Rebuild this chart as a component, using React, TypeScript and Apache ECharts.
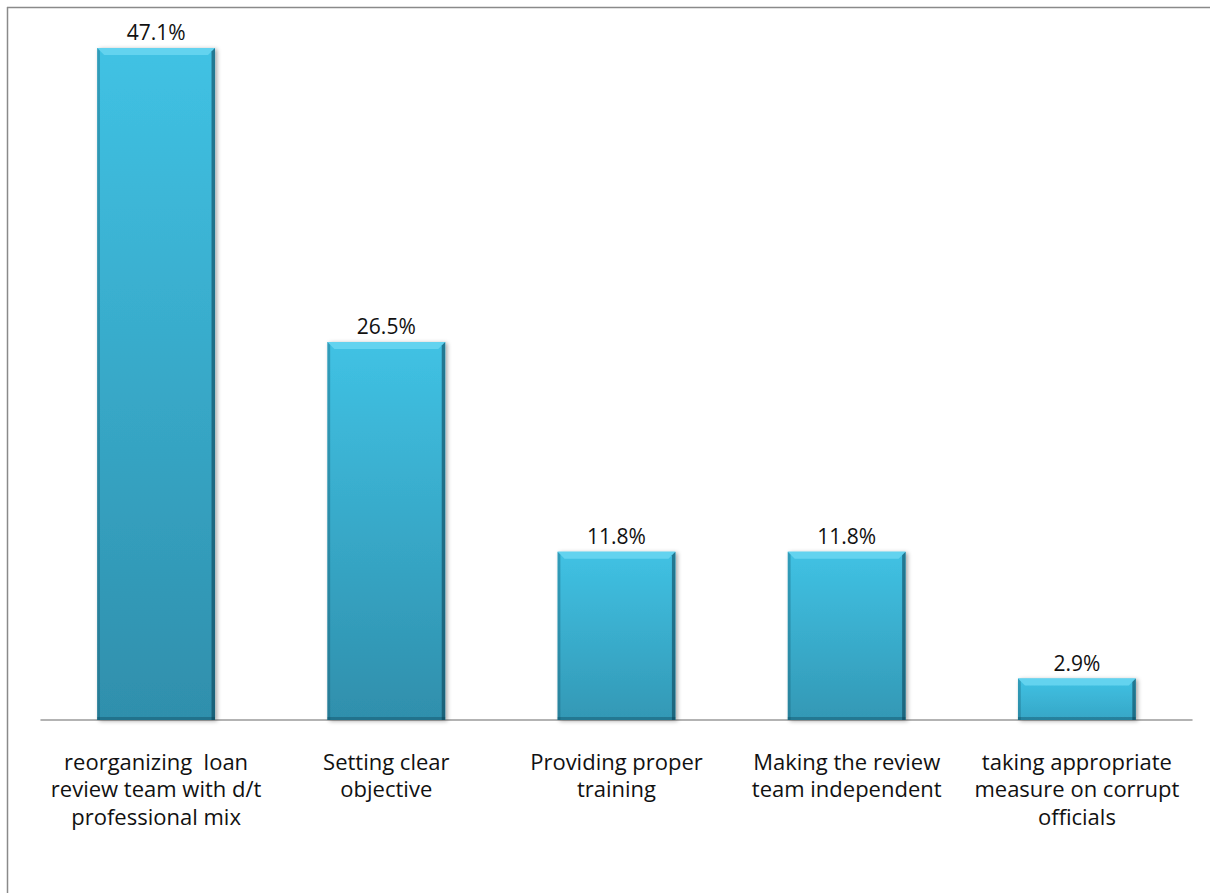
import React, { useEffect, useRef } from "react";
import * as echarts from "echarts";

const categories = [
  "reorganizing  loan\nreview team with d/t\nprofessional mix",
  "Setting clear\nobjective",
  "Providing proper\ntraining",
  "Making the review\nteam independent",
  "taking appropriate\nmeasure on corrupt\nofficials",
];
const values = [47.1, 26.5, 11.8, 11.8, 2.9];

export default function App() {
  const ref = useRef<HTMLDivElement>(null);
  useEffect(() => {
    if (!ref.current) return;
    const chart = echarts.init(ref.current, null, { renderer: "svg" });
    const font = "'Open Sans', sans-serif";
    chart.setOption({
      animation: false,
      backgroundColor: "#ffffff",
      graphic: [
        {
          type: "line",
          shape: { x1: 7, y1: 7.5, x2: 1210, y2: 7.5 },
          style: { stroke: "#8a8a8a", lineWidth: 1.5 },
          silent: true,
        },
        {
          type: "line",
          shape: { x1: 7.5, y1: 7, x2: 7.5, y2: 893 },
          style: { stroke: "#8a8a8a", lineWidth: 1.5 },
          silent: true,
        },
      ],
      grid: { left: 41, right: 18, top: 6.6, bottom: 173 },
      xAxis: {
        type: "category",
        data: categories,
        axisLine: { lineStyle: { color: "#9a9a9a", width: 1.5 } },
        axisTick: { show: false },
        axisLabel: {
          interval: 0,
          color: "#111",
          fontSize: 22,
          lineHeight: 27.5,
          margin: 27,
          fontFamily: font,
        },
      },
      yAxis: {
        type: "value",
        min: 0,
        max: 50,
        show: false,
        splitLine: { show: false },
      },
      series: [
        {
          type: "custom",
          data: values.map((v, i) => [i, v]),
          encode: { x: 0, y: 1 },
          z: 5,
          renderItem: (params: any, api: any) => {
            const idx = api.value(0);
            const v = api.value(1);
            const top = api.coord([idx, v]);
            const base = api.coord([idx, 0]);
            const w = api.size([1, 0])[0] * 0.512;
            const x0 = top[0] - w / 2;
            const x1 = top[0] + w / 2;
            const y0 = top[1];
            const y1 = base[1];
            const b = 7;
            const grad = new echarts.graphic.LinearGradient(0, 0, 0, 1, [
              { offset: 0, color: "#40c2e4" },
              { offset: 1, color: v > 20 ? "#2f8fac" : v > 5 ? "#3398b5" : "#36a6c6" },
            ]);
            return {
              type: "group",
              children: [
                {
                  type: "rect",
                  shape: { x: x0, y: y0, width: w, height: y1 - y0 },
                  style: {
                    fill: grad,
                    shadowBlur: 4,
                    shadowOffsetX: 2,
                    shadowOffsetY: 1,
                    shadowColor: "rgba(0,0,0,0.35)",
                  },
                },
                {
                  type: "polygon",
                  shape: { points: [[x0, y0], [x1, y0], [x1 - b, y0 + b], [x0 + b, y0 + b]] },
                  style: { fill: "#63d3ef" },
                },
                {
                  type: "polygon",
                  shape: { points: [[x0, y0], [x0 + b * 0.4, y0 + b * 0.4], [x0 + b * 0.4, y1], [x0, y1]] },
                  style: { fill: "rgba(20,90,110,0.35)" },
                },
                {
                  type: "polygon",
                  shape: { points: [[x1, y0], [x1 - b * 0.5, y0 + b * 0.5], [x1 - b * 0.5, y1], [x1, y1]] },
                  style: { fill: "rgba(10,60,80,0.55)" },
                },
                {
                  type: "rect",
                  shape: { x: x0, y: y1 - 3, width: w, height: 3 },
                  style: { fill: "rgba(10,60,80,0.35)" },
                },
                {
                  type: "text",
                  style: {
                    text: v.toFixed(1) + "%",
                    x: top[0],
                    y: y0 - 5,
                    align: "center",
                    verticalAlign: "bottom",
                    fill: "#111",
                    fontSize: 21,
                    fontFamily: font,
                  },
                },
              ],
            };
          },
        },
      ],
    });
    return () => chart.dispose();
  }, []);
  return (
    <div
      ref={ref}
      style={{ position: "fixed", left: 0, top: 0, width: 1210, height: 893 }}
    />
  );
}
